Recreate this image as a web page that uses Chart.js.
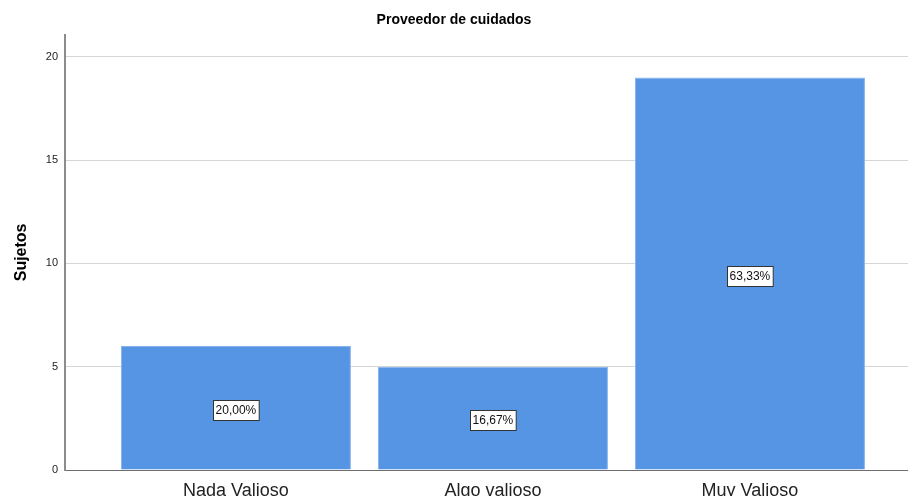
<!DOCTYPE html>
<html>
<head>
<meta charset="utf-8">
<script src="https://cdn.jsdelivr.net/npm/chart.js@4"></script>
<style>
  html, body { margin: 0; padding: 0; background: #ffffff; }
  #wrap { width: 908px; height: 496px; }
</style>
</head>
<body>
<div id="wrap"><canvas id="chart" width="908" height="496"></canvas></div>
<script>
// Proveedor de cuidados - frequency bar chart

const categories = ['Nada Valioso', 'Algo valioso', 'Muy Valioso'];
const counts = [6, 5, 19];
const percentLabels = ['20,00%', '16,67%', '63,33%'];
const yTicks = [0, 5, 10, 15, 20];

// boxed percentage label in the middle of each bar
const boxLabels = {
    id: 'boxLabels',
    afterDatasetsDraw(chart) {
        const ctx = chart.ctx;
        const meta = chart.getDatasetMeta(0);
        ctx.save();
        ctx.font = '12px Arial, "Liberation Sans", sans-serif';
        ctx.textAlign = 'center';
        ctx.textBaseline = 'middle';
        meta.data.forEach((bar, i) => {
            const p = bar.getCenterPoint();
            const text = percentLabels[i];
            const w = ctx.measureText(text).width + 5;
            const h = 20;
            const x = Math.round(p.x - w / 2) + 0.5;
            const y = Math.round(p.y - h / 2) + 2.5;
            ctx.fillStyle = '#ffffff';
            ctx.fillRect(x, y, w, h);
            ctx.strokeStyle = '#333333';
            ctx.lineWidth = 1;
            ctx.strokeRect(x, y, w, h);
            ctx.fillStyle = '#111111';
            ctx.fillText(text, p.x, y + h / 2 + 0.5);
        });
        ctx.restore();
    }
};

const chart = new Chart(document.getElementById('chart'), {
    type: 'bar',
    data: {
        datasets: [{
            label: 'Sujetos',
            data: counts.map((v, i) => ({ x: i, y: v })),
            backgroundColor: '#5595e4',
            borderColor: '#86b2ee',
            borderWidth: 1,
            barPercentage: 1,
            categoryPercentage: 0.895
        }]
    },
    options: {
        responsive: false,
        animation: false,
        layout: {
            padding: 0
        },
        plugins: {
            legend: {
                display: false
            },
            tooltip: {
                enabled: false
            },
            title: {
                display: true,
                text: 'Proveedor de cuidados',
                color: '#000000',
                font: { family: 'Arial, "Liberation Sans", sans-serif', size: 14, weight: 'bold' },
                padding: { top: 12, bottom: 6 }
            }
        },
        scales: {
            x: {
                type: 'linear',
                offset: false,
                min: -0.665,
                max: 2.615,
                grid: {
                    display: false
                },
                border: {
                    display: true,
                    color: '#6e6e6e',
                    width: 1
                },
                afterBuildTicks: (scale) => {
                    scale.ticks = categories.map((c, i) => ({ value: i }));
                },
                afterFit: (scale) => {
                    scale.height = 26;
                },
                ticks: {
                    autoSkip: false,
                    maxRotation: 0,
                    padding: 2,
                    color: '#222222',
                    font: { family: 'Arial, "Liberation Sans", sans-serif', size: 18 },
                    callback: (value) => categories[value]
                }
            },
            y: {
                min: 0,
                max: 21.07,
                grid: {
                    color: '#d6d6d6',
                    lineWidth: 1,
                    drawTicks: false
                },
                border: {
                    display: true,
                    color: '#8c8c8c',
                    width: 2
                },
                afterBuildTicks: (scale) => {
                    scale.ticks = yTicks.map(v => ({ value: v }));
                },
                afterFit: (scale) => {
                    scale.width = 65;
                },
                ticks: {
                    padding: 7,
                    color: '#222222',
                    font: { family: 'Arial, "Liberation Sans", sans-serif', size: 11 }
                },
                title: {
                    display: true,
                    text: 'Sujetos',
                    color: '#000000',
                    font: { family: 'Arial, "Liberation Sans", sans-serif', size: 16, weight: 'bold' },
                    padding: { top: 12, bottom: 4 }
                }
            }
        }
    },
    plugins: [boxLabels]
});
</script>
</body>
</html>
